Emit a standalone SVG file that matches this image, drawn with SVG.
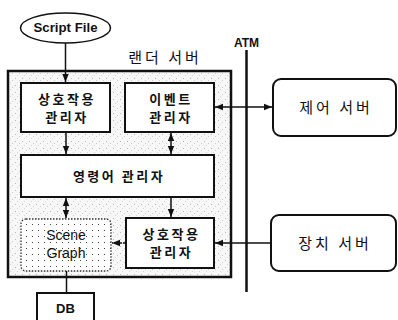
<svg xmlns="http://www.w3.org/2000/svg" width="398" height="320" viewBox="0 0 398 320">
<defs>
  <pattern id="stip" width="7" height="7" patternUnits="userSpaceOnUse">
    <rect width="7" height="7" fill="#f7f7f7"/>
    <rect x="1" y="1" width="1" height="1" fill="#b8b8b8"/>
    <rect x="5" y="3" width="1" height="1" fill="#cccccc"/>
    <rect x="3" y="5" width="1" height="1" fill="#d6d6d6"/>
  </pattern>
  <pattern id="dots" width="6" height="6" patternUnits="userSpaceOnUse">
    <rect width="6" height="6" fill="#ffffff"/>
    <rect x="2" y="2" width="1" height="1" fill="#444"/>
  </pattern>
  <marker id="ah" viewBox="0 0 10 10" refX="10" refY="5" markerWidth="8" markerHeight="8" orient="auto-start-reverse" markerUnits="userSpaceOnUse">
    <path d="M0,1 L10,5 L0,9 z" fill="#111"/>
  </marker>
</defs>
<style>
  .box{fill:#fff;stroke:#111;stroke-width:2}
  .ln{stroke:#111;stroke-width:1.5;fill:none}
  .ko{font-family:"Noto Sans CJK KR","Noto Sans",sans-serif;font-size:13px;font-weight:bold;fill:#111;text-anchor:middle;letter-spacing:2.5px}
  .big{font-size:15px;font-weight:normal;letter-spacing:3px}
  .en{font-family:"Liberation Sans",Arial,sans-serif;font-size:13px;fill:#111;text-anchor:middle}
</style>
<rect width="398" height="320" fill="#fff"/>

<g id="render-server">
  <rect x="8" y="71" width="223" height="206" fill="url(#stip)" stroke="#111" stroke-width="2.5"/>
  <text class="ko big" x="165" y="63">랜더 서버</text>
</g>

<g id="script-file">
  <ellipse cx="65.5" cy="28" rx="45" ry="15" fill="#fff" stroke="#111" stroke-width="1.5"/>
  <text class="en" x="65.5" y="32" style="font-weight:bold" textLength="64" lengthAdjust="spacingAndGlyphs">Script File</text>
</g>

<g id="interaction-mgr-1">
  <rect class="box" x="21" y="83" width="89" height="49"/>
  <text class="ko" x="67" y="104">상호작용</text>
  <text class="ko" x="67" y="122">관리자</text>
</g>

<g id="event-mgr">
  <rect class="box" x="125" y="83" width="89" height="49"/>
  <text class="ko" x="171" y="104">이벤트</text>
  <text class="ko" x="171" y="122">관리자</text>
</g>

<g id="command-mgr">
  <rect class="box" x="21" y="155" width="193" height="42"/>
  <text class="ko" x="119" y="181">영령어 관리자</text>
</g>

<g id="scene-graph">
  <rect x="21" y="219" width="90" height="52" rx="5" fill="url(#dots)" stroke="#333" stroke-width="1.3" stroke-dasharray="1.5 1.5"/>
  <text class="en" x="66" y="240" style="font-size:14px">Scene</text>
  <text class="en" x="66" y="258" style="font-size:14px">Graph</text>
</g>

<g id="interaction-mgr-2">
  <rect class="box" x="126" y="218" width="88" height="50"/>
  <text class="ko" x="171.5" y="239">상호작용</text>
  <text class="ko" x="171.5" y="257">관리자</text>
</g>

<g id="db">
  <rect class="box" x="37" y="293" width="57" height="30"/>
  <text class="en" x="65.5" y="313" style="font-weight:bold">DB</text>
</g>

<g id="atm">
  <line x1="246.5" y1="50" x2="246.5" y2="292" stroke="#111" stroke-width="2.5"/>
  <text class="en" x="246.5" y="47" style="font-weight:bold;font-size:12px">ATM</text>
</g>

<g id="control-server">
  <rect class="box" x="273" y="79" width="123" height="57" rx="8"/>
  <text class="ko big" x="336" y="113">제어 서버</text>
</g>

<g id="device-server">
  <rect class="box" x="271" y="215" width="125" height="56" rx="8"/>
  <text class="ko big" x="335" y="249">장치 서버</text>
</g>

<g id="connectors">
  <line class="ln" x1="65.5" y1="43" x2="65.5" y2="82" marker-end="url(#ah)"/>
  <line class="ln" x1="215" y1="107" x2="272" y2="107" marker-start="url(#ah)" marker-end="url(#ah)"/>
  <line class="ln" x1="66" y1="132" x2="66" y2="154" marker-end="url(#ah)"/>
  <line class="ln" x1="171" y1="133" x2="171" y2="154" marker-start="url(#ah)" marker-end="url(#ah)"/>
  <line class="ln" x1="66" y1="198" x2="66" y2="218" marker-start="url(#ah)" marker-end="url(#ah)"/>
  <line class="ln" x1="171" y1="197" x2="171" y2="217" marker-end="url(#ah)"/>
  <line class="ln" x1="125" y1="243" x2="112" y2="243" stroke-dasharray="2 1" marker-end="url(#ah)"/>
  <line class="ln" x1="270" y1="243" x2="215" y2="243" marker-end="url(#ah)"/>
  <line class="ln" x1="66.5" y1="271" x2="66.5" y2="293"/>
</g>
</svg>
